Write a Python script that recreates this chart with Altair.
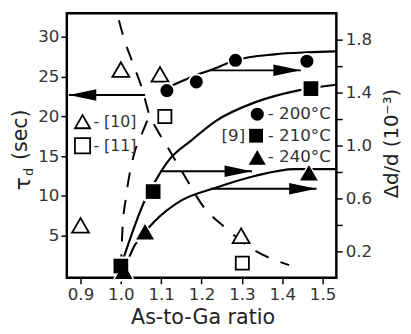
import altair as alt
import pandas as pd

FONT = "DejaVu Sans"

# ---- open markers (left axis, tau_d in sec) ----
tri_open_x = [0.9, 1.0, 1.097, 1.298]
tri_open_tau = [6.3, 25.9, 25.3, 5.0]
sq_open_x = [1.109, 1.301]
sq_open_tau = [20.0, 1.55]

# ---- filled markers (right axis, delta d/d in 1e-3) ----
circ_x = [1.114, 1.187, 1.284, 1.461]
circ_v = [1.415, 1.481, 1.644, 1.637]
sq_x = [1.0, 1.08, 1.471]
sq_v = [0.089, 0.652, 1.43]
tri_x = [1.007, 1.060, 1.466]
tri_v = [0.05, 0.348, 0.793]

# ---- solid guide curves ----
c200_x = [1.12, 1.131, 1.187, 1.223, 1.284, 1.381, 1.461, 1.534]
c200_v = [1.445, 1.459, 1.533, 1.57, 1.644, 1.689, 1.704, 1.711]
c210_x = [1.0, 1.02, 1.04, 1.06, 1.085, 1.119, 1.174, 1.235, 1.332, 1.437, 1.534]
c210_v = [0.089, 0.27, 0.44, 0.59, 0.73, 0.889, 1.037, 1.185, 1.326, 1.415, 1.459]
c240_x = [1.007, 1.034, 1.060, 1.082, 1.15, 1.235, 1.332, 1.43, 1.534]
c240_v = [0.052, 0.244, 0.348, 0.422, 0.585, 0.681, 0.77, 0.822, 0.822]

# ---- dashed guide curves (left axis) ----
dfall_x = [0.995, 1.009, 1.029, 1.055, 1.07, 1.089, 1.121, 1.157, 1.204, 1.259, 1.327, 1.417]
dfall_tau = [32.1, 29.6, 26.8, 23.1, 20.3, 18.4, 15.7, 12.6, 8.7, 6.0, 3.3, 1.3]
drise_x = [1.0, 1.004, 1.012, 1.021, 1.034, 1.051, 1.068]
drise_tau = [0.8, 5.85, 9.6, 12.6, 15.5, 17.7, 19.8]

# ---- arrows ----
larrow_x0, larrow_x1, larrow_tau = 1.06, 0.871, 22.7
rarrow_x0 = [1.223, 1.097, 1.222]
rarrow_x1 = [1.446, 1.325, 1.485]
rarrow_v = [1.568, 0.805, 0.674]

# ---- legends ----
leg_left_marker_x = [0.905, 0.905]
leg_left_tau = [19.35, 16.33]
leg_left_shape = ["triangle-up", "square"]
leg_left_text = ["- [10]", "- [11]"]
leg_left_text_x = 0.932

leg_right_marker_x = [1.338, 1.335, 1.338]
leg_right_v = [1.237, 1.074, 0.911]
leg_right_shape = ["circle", "square", "triangle-up"]
leg_right_size = [177, 200, 300]
leg_right_text = ["- 200°C", "- 210°C", "- 240°C"]
leg_right_text_x = 1.364
ref9_text, ref9_x, ref9_v = "[9]", 1.308, 1.074

x_ticks = [0.9, 1.0, 1.1, 1.2, 1.3, 1.4, 1.5]
left_ticks = [5, 10, 15, 20, 25, 30]
right_ticks = [0.2, 0.4, 0.6, 0.8, 1.0, 1.2, 1.4, 1.6, 1.8]

W, H = 275, 270
xscale = alt.Scale(domain=[0.866, 1.534], nice=False, zero=False)
lscale = alt.Scale(domain=[-0.3, 33], nice=False, zero=False)
rscale = alt.Scale(domain=[0, 2.0], nice=False, zero=False)

ax_common = dict(labelFontSize=17, labelFont=FONT, labelColor="#333", tickColor="black",
                 tickWidth=1.5, tickSize=6, domain=False, grid=False, title=None)
x_axis = alt.Axis(values=x_ticks, format=".1f", labelPadding=3, **ax_common)
l_axis = alt.Axis(values=left_ticks, orient="left", labelPadding=2, **ax_common)
r_axis = alt.Axis(values=right_ticks, orient="right", labelPadding=3,
                  labelExpr="indexof(['0.2','0.6','1.0','1.4','1.8'], format(datum.value, '.1f')) >= 0 ? format(datum.value, '.1f') : ''",
                  **ax_common)

X = alt.X("x:Q", scale=xscale, axis=x_axis)
X2 = alt.X2("x2:Q")
YL = alt.Y("tau:Q", scale=lscale, axis=l_axis)
YR = alt.Y("v:Q", scale=rscale, axis=r_axis)

# ---------------- left group ----------------
d_fall = pd.DataFrame({"x": dfall_x, "tau": dfall_tau})
d_rise = pd.DataFrame({"x": drise_x, "tau": drise_tau})
dash_fall = alt.Chart(d_fall).mark_line(color="black", strokeWidth=2, strokeDash=[15, 13],
                                         interpolate="monotone").encode(x=X, y=YL)
dash_rise = alt.Chart(d_rise).mark_line(color="black", strokeWidth=2, strokeDash=[15, 13],
                                         interpolate="monotone").encode(x=X, y=YL)

d_larrow = pd.DataFrame({"x": [larrow_x0], "x2": [larrow_x1], "tau": [larrow_tau]})
larrow_line = alt.Chart(d_larrow).mark_rule(color="black", strokeWidth=2).encode(
    x=X, x2=X2, y=YL)
d_larrow_head = pd.DataFrame({"x": [larrow_x1], "tau": [larrow_tau]})
larrow_head = alt.Chart(d_larrow_head).mark_point(shape="M0,0 L2,-0.42 L2,0.42 Z", size=784,
                                                   filled=True, color="black", opacity=1).encode(
    x=X, y=YL)

d_tri_open = pd.DataFrame({"x": tri_open_x, "tau": tri_open_tau})
d_sq_open = pd.DataFrame({"x": sq_open_x, "tau": sq_open_tau})
tri_open = alt.Chart(d_tri_open).mark_point(shape="triangle-up", size=300, fill="white",
                                             filled=False, stroke="black", strokeWidth=1.8,
                                             opacity=1, fillOpacity=1).encode(x=X, y=YL)
sq_open = alt.Chart(d_sq_open).mark_point(shape="square", size=180, fill="white",
                                           filled=False, stroke="black", strokeWidth=1.8,
                                           opacity=1, fillOpacity=1).encode(x=X, y=YL)

d_leg_left = pd.DataFrame({"x": leg_left_marker_x, "tau": leg_left_tau,
                           "shape": leg_left_shape})
leg_left_marks = alt.Chart(d_leg_left).mark_point(size=240, fill="white", filled=False,
                                                   stroke="black", strokeWidth=1.8,
                                                   opacity=1, fillOpacity=1).encode(
    x=X, y=YL, shape=alt.Shape("shape:N", scale=None, legend=None))
d_leg_left_t = pd.DataFrame({"x": [leg_left_text_x] * 2, "tau": leg_left_tau,
                             "label": leg_left_text})
leg_left_txt = alt.Chart(d_leg_left_t).mark_text(align="left", baseline="middle", fontSize=16,
                                                  font=FONT, color="#333").encode(
    x=X, y=YL, text="label:N")

left = alt.layer(dash_fall, dash_rise, larrow_line, larrow_head, tri_open, sq_open,
                 leg_left_marks, leg_left_txt)

# ---------------- right group ----------------
d200 = pd.DataFrame({"x": c200_x, "v": c200_v})
d210 = pd.DataFrame({"x": c210_x, "v": c210_v})
d240 = pd.DataFrame({"x": c240_x, "v": c240_v})
curve_kw = dict(color="black", strokeWidth=2.2, interpolate="monotone")
l200 = alt.Chart(d200).mark_line(**curve_kw).encode(x=X, y=YR)
l210 = alt.Chart(d210).mark_line(**curve_kw).encode(x=X, y=YR)
l240 = alt.Chart(d240).mark_line(**curve_kw).encode(x=X, y=YR)

d_rarrow = pd.DataFrame({"x": rarrow_x0, "x2": rarrow_x1, "v": rarrow_v})
rarrow_line = alt.Chart(d_rarrow).mark_rule(color="black", strokeWidth=2).encode(
    x=X, x2=X2, y=YR)
d_rarrow_head = pd.DataFrame({"x": rarrow_x1, "v": rarrow_v})
rarrow_head = alt.Chart(d_rarrow_head).mark_point(shape="M0,0 L-2,-0.42 L-2,0.42 Z", size=784,
                                                   filled=True, color="black", opacity=1).encode(
    x=X, y=YR)

d_circ = pd.DataFrame({"x": circ_x, "v": circ_v})
d_sq = pd.DataFrame({"x": sq_x, "v": sq_v})
d_tri = pd.DataFrame({"x": tri_x, "v": tri_v})

def filled(df, shape, size):
    return alt.Chart(df).mark_point(shape=shape, size=size, filled=True, color="black",
                                    opacity=1).encode(x=X, y=YR)

def halo(df, shape, size):
    return alt.Chart(df).mark_point(shape=shape, size=size, filled=True, color="white",
                                    opacity=1).encode(x=X, y=YR)

halos = [halo(d_tri, "triangle-up", 600), halo(d_sq, "square", 380), halo(d_circ, "circle", 290)]
marks = [filled(d_tri, "triangle-up", 330), filled(d_sq, "square", 225), filled(d_circ, "circle", 177)]

d_leg_right = pd.DataFrame({"x": leg_right_marker_x, "v": leg_right_v, "shape": leg_right_shape,
                            "size": leg_right_size})
leg_right_marks = alt.Chart(d_leg_right).mark_point(filled=True, color="black", opacity=1).encode(
    x=X, y=YR, shape=alt.Shape("shape:N", scale=None, legend=None),
    size=alt.Size("size:Q", scale=None, legend=None))
d_leg_right_t = pd.DataFrame({"x": [leg_right_text_x] * 3, "v": leg_right_v,
                              "label": leg_right_text})
leg_right_txt = alt.Chart(d_leg_right_t).mark_text(align="left", baseline="middle", fontSize=17,
                                                    font=FONT, color="#333").encode(
    x=X, y=YR, text="label:N")
d_ref9 = pd.DataFrame({"x": [ref9_x], "v": [ref9_v], "label": [ref9_text]})
ref9 = alt.Chart(d_ref9).mark_text(align="right", baseline="middle", fontSize=17, font=FONT,
                                   color="#333").encode(x=X, y=YR, text="label:N")

# titles (placed relative to the plot area)
one = pd.DataFrame({"a": [0]})
def title_text(txt, px, py, size, angle=0):
    return alt.Chart(one).mark_text(text=txt, fontSize=size, font=FONT, color="#222",
                                    align="center", baseline="middle", angle=angle).encode(
        x=alt.value(px), y=alt.value(py))

t_x = title_text("As-to-Ga ratio", 139, 311, 21)
t_sec = title_text("(sec)", -47, 124, 21, 270)
t_tau = title_text("τ", -45, 174, 22, 270)
t_d = title_text("d", -38, 162, 13, 270)
t_r = title_text("Δd/d (10⁻³)", 332, 133, 20, 270)

right = alt.layer(l200, l210, l240, rarrow_line, rarrow_head, *halos, *marks,
                  leg_right_marks, leg_right_txt, ref9, t_x, t_sec, t_tau, t_d, t_r)

chart = alt.layer(left, right).resolve_scale(y="independent").properties(
    width=W, height=H,
    padding={"left": 60, "top": 2, "right": 68, "bottom": 54},
    autosize=alt.AutoSizeParams(type="none"),
    background="white",
).configure_view(stroke="black", strokeWidth=2.5)

chart.save("out.html", embed_options={"renderer": "svg", "actions": False})
